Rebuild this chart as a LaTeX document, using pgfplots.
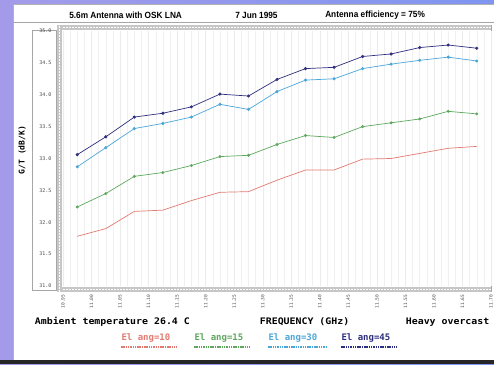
\documentclass[border=0pt]{standalone}
\usepackage{pgfplots}
\pgfplotsset{compat=1.18}
\usepackage{fontspec}
\setmainfont{Liberation Sans}
\newfontfamily\mono{DejaVu Sans Mono}
\definecolor{bgA}{HTML}{A39BEA}
\definecolor{bgB}{HTML}{7F95F0}
\definecolor{cRed}{HTML}{E27A72}
\definecolor{cGreen}{HTML}{5DA85D}
\definecolor{cCyan}{HTML}{4BA7D8}
\definecolor{cNavy}{HTML}{2F2F7F}
\definecolor{hatch}{HTML}{A0A0A0}
\begin{document}
\begin{tikzpicture}[x=1pt,y=1pt]
\useasboundingbox (0,0) rectangle (494,364);
% background and panel
\shade[left color=bgA, right color=bgB] (0,0) rectangle (494,364);
\fill[white] (13,4) rectangle (494,360);
\draw[gray!60] (13,4) rectangle (494,360);
\fill[black!85] (0,0) rectangle (494,4);
% title
\node[font=\bfseries\fontsize{9}{10}\selectfont, anchor=west, xscale=0.92] at (66,349) {5.6m Antenna with OSK LNA};
\node[font=\bfseries\fontsize{9}{10}\selectfont, anchor=west, xscale=0.92] at (232,349) {7 Jun 1995};
\node[font=\bfseries\fontsize{9}{10}\selectfont, anchor=west, xscale=0.92] at (322,349) {Antenna efficiency = 75\%};
\draw[gray!70, line width=0.8pt] (13,342) -- (494,342);
% hatched frame bands
\fill[hatch!60] (57,334) rectangle (492,339);
\draw[white, line width=1pt, dash pattern=on 2pt off 1pt] (57,336.5) -- (492,336.5);
\fill[hatch!60] (57,72) rectangle (492,77);
\draw[white, line width=1pt, dash pattern=on 2pt off 1pt] (57,74.5) -- (492,74.5);
\fill[hatch!60] (57,72) rectangle (62,339);
\draw[white, line width=1pt, dash pattern=on 2pt off 1pt] (59.5,72) -- (59.5,339);
\draw[gray!70] (491,72) -- (491,339);
% y label box
\draw[gray!70, line width=0.8pt] (32,74) rectangle (56,334);
\node[rotate=90, font=\mono\bfseries\fontsize{8}{8}\selectfont] at (22,214) {G/T (dB/K)};
\begin{axis}[
  at={(63pt,78pt)}, anchor=south west,
  scale only axis, width=428pt, height=255pt,
  xmin=0, xmax=15, ymin=31, ymax=35,
  axis line style={draw=none},
  xtick={0,...,15},
  xticklabels={10.95,11.00,11.05,11.10,11.15,11.20,11.25,11.30,11.35,11.40,11.45,11.50,11.55,11.60,11.65,11.70},
  xticklabel style={yshift=-8pt, rotate=90, anchor=east, font=\mono\fontsize{4.5}{4.5}\selectfont, text=black!70, inner sep=0.5pt},
  ytick={31,31.5,...,35},
  yticklabels={31.0,31.5,32.0,32.5,33.0,33.5,34.0,34.5,35.0},
  yticklabel style={font=\mono\fontsize{5}{5}\selectfont, text=black!70, xshift=-8pt},
  major tick length=0pt, minor tick length=0pt,
  minor x tick num=3,
  xmajorgrids, xminorgrids,
  major grid style={black!8, line width=0.4pt},
  minor grid style={black!6, line width=0.4pt},
  clip=false,
]
\addplot[cRed, line width=0.7pt] coordinates {
(0.5,31.78) (1.5,31.90) (2.5,32.17) (3.5,32.19) (4.5,32.34) (5.5,32.47) (6.5,32.48) (7.5,32.66)
(8.5,32.82) (9.5,32.82) (10.5,32.99) (11.5,33.00) (12.5,33.08) (13.5,33.16) (14.5,33.19)};
\addplot[cGreen, line width=0.7pt, mark=*, mark size=1.1pt] coordinates {
(0.5,32.24) (1.5,32.45) (2.5,32.72) (3.5,32.78) (4.5,32.89) (5.5,33.03) (6.5,33.05) (7.5,33.22)
(8.5,33.36) (9.5,33.33) (10.5,33.50) (11.5,33.56) (12.5,33.62) (13.5,33.74) (14.5,33.70)};
\addplot[cCyan, line width=0.7pt, mark=*, mark size=1.2pt] coordinates {
(0.5,32.87) (1.5,33.17) (2.5,33.47) (3.5,33.55) (4.5,33.65) (5.5,33.85) (6.5,33.77) (7.5,34.05)
(8.5,34.23) (9.5,34.25) (10.5,34.41) (11.5,34.48) (12.5,34.54) (13.5,34.59) (14.5,34.53)};
\addplot[cNavy, line width=0.7pt, mark=*, mark size=1.2pt] coordinates {
(0.5,33.06) (1.5,33.34) (2.5,33.65) (3.5,33.71) (4.5,33.81) (5.5,34.01) (6.5,33.98) (7.5,34.24)
(8.5,34.41) (9.5,34.43) (10.5,34.60) (11.5,34.64) (12.5,34.74) (13.5,34.78) (14.5,34.73)};
\end{axis}
% bottom texts
\node[font=\mono\bfseries\fontsize{9}{10}\selectfont, anchor=west, xscale=1.1] at (31,42) {Ambient temperature 26.4 C};
\node[font=\mono\bfseries\fontsize{9}{10}\selectfont, anchor=west, xscale=1.1] at (256,42) {FREQUENCY (GHz)};
\node[font=\mono\bfseries\fontsize{9}{10}\selectfont, anchor=west, xscale=1.1] at (402,42) {Heavy overcast};
% legend
\node[font=\mono\bfseries\fontsize{9}{10}\selectfont, anchor=west, text=cRed] at (118,26) {El ang=10};
\node[font=\mono\bfseries\fontsize{9}{10}\selectfont, anchor=west, text=cGreen] at (191,26) {El ang=15};
\node[font=\mono\bfseries\fontsize{9}{10}\selectfont, anchor=west, text=cCyan] at (265,26) {El ang=30};
\node[font=\mono\bfseries\fontsize{9}{10}\selectfont, anchor=west, text=cNavy] at (338,26) {El ang=45};
\draw[cRed, line width=1.3pt, dash pattern=on 1.5pt off 0.8pt] (121,17) -- (177,17);
\draw[cGreen, line width=1.3pt, dash pattern=on 1.5pt off 0.8pt] (194,17) -- (250,17);
\draw[cCyan, line width=1.3pt, dash pattern=on 1.5pt off 0.8pt] (268,17) -- (326,17);
\draw[cNavy, line width=1.3pt, dash pattern=on 1.5pt off 0.8pt] (341,17) -- (397,17);
\end{tikzpicture}
\end{document}
